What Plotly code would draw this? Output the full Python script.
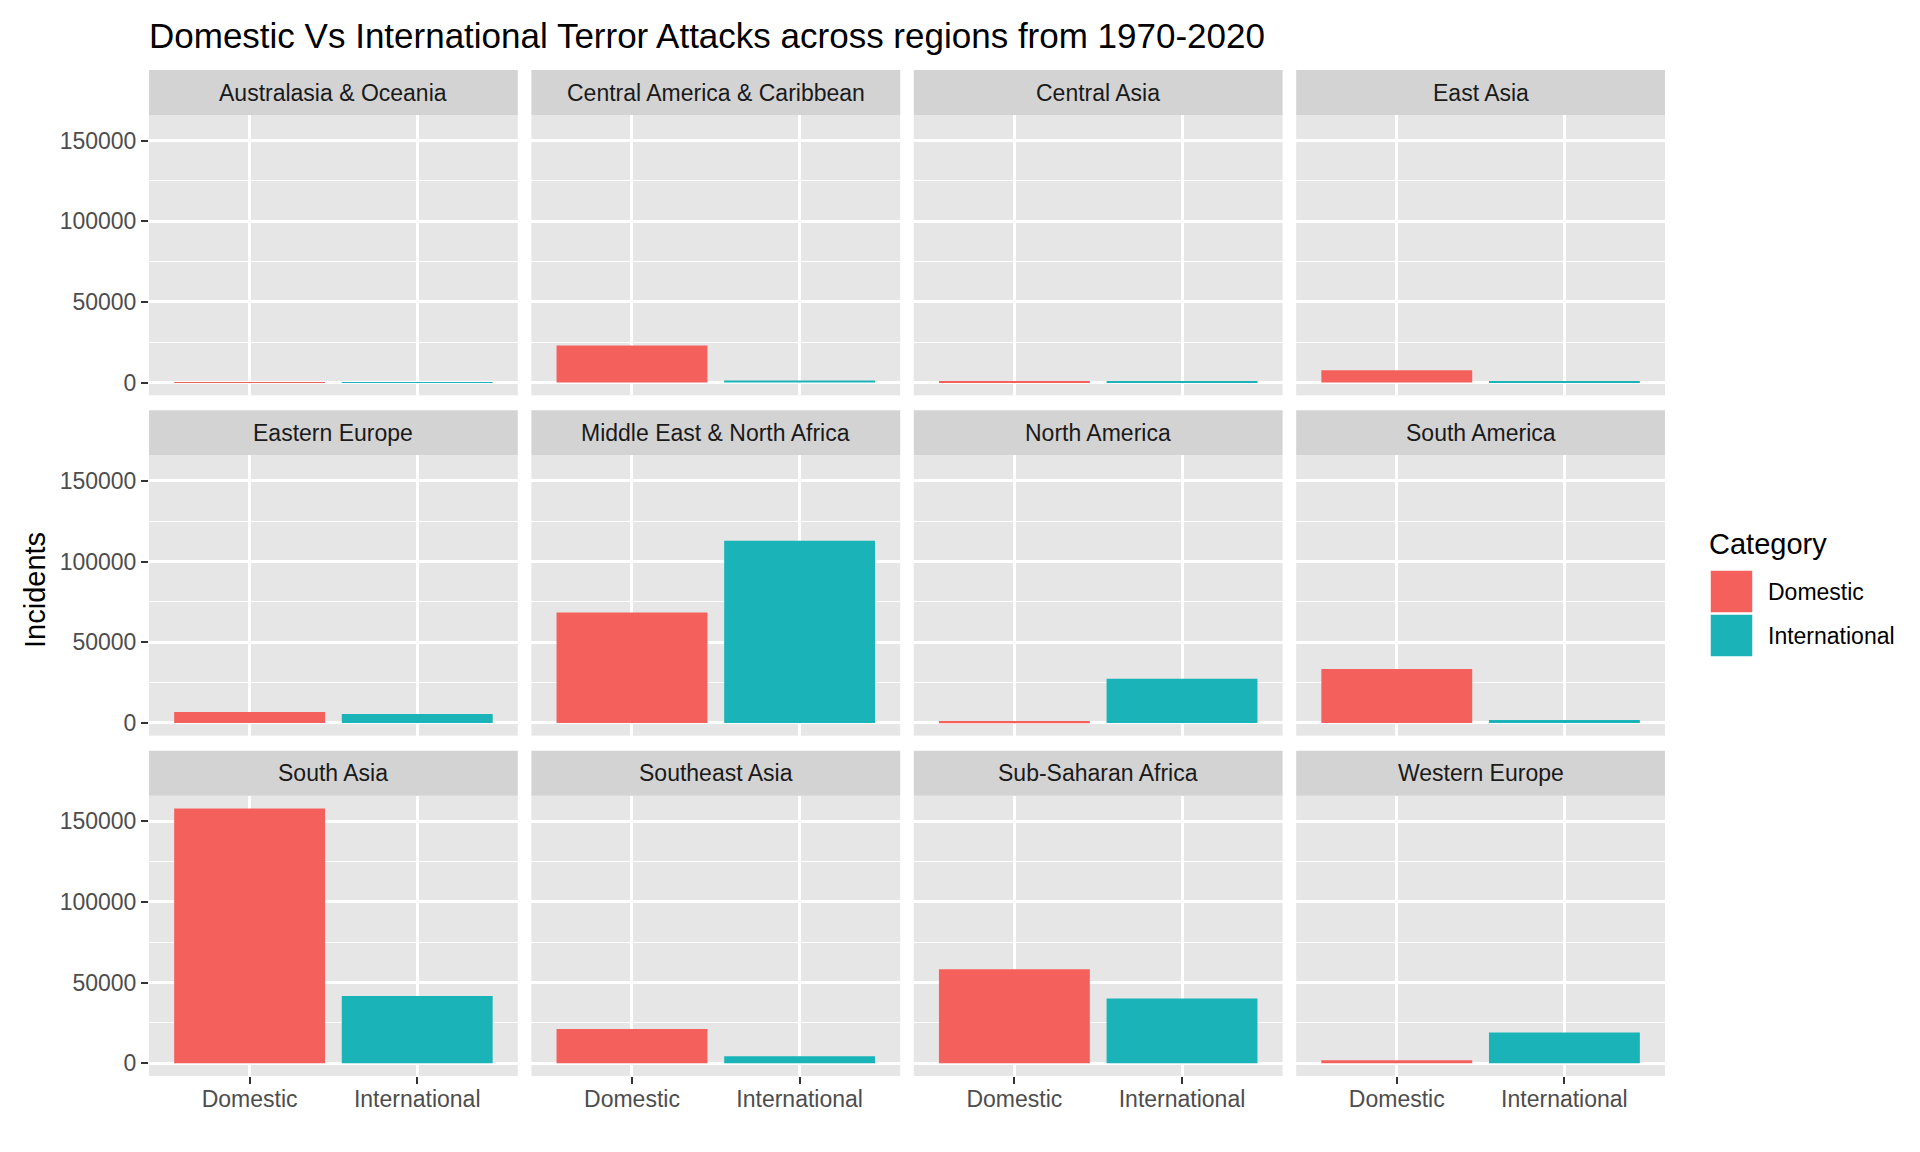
from plotly.subplots import make_subplots
import plotly.graph_objects as go

regions = ['Australasia & Oceania', 'Central America & Caribbean', 'Central Asia', 'East Asia',
           'Eastern Europe', 'Middle East & North Africa', 'North America', 'South America',
           'South Asia', 'Southeast Asia', 'Sub-Saharan Africa', 'Western Europe']
categories = ['Domestic', 'International']
domestic = [150, 23000, 600, 7700, 6700, 68500, 1200, 33500, 158000, 21200, 58300, 1800]
international = [250, 1300, 600, 600, 5500, 113000, 27400, 1800, 41700, 4300, 40200, 19000]
y_ticks = [0, 50000, 100000, 150000]
y_minor = [25000, 75000, 125000]

colors = {'Domestic': '#F4605B', 'International': '#19B3B8'}

# pixel layout of the 1920x1152 page
W, H = 1920, 1152
ml, mr, mt, mb = 141, 263, 62, 84
pw, ph = W - ml - mr, H - mt - mb
gap_x = 13.6
panel_w = (pw - 3 * gap_x) / 4
strip_h, gap_y = 45, 15
panel_h = (ph - 3 * strip_h - 2 * gap_y) / 3


def px(x):
    v = (x - ml) / pw
    return min(max(v, 0), 1) if abs(v - round(v)) < 1e-6 else v


def py(y):
    v = (H - mb - y) / ph
    return min(max(v, 0), 1) if abs(v - round(v)) < 1e-6 else v


fig = make_subplots(rows=3, cols=4)

for k, reg in enumerate(regions):
    r, c = k // 4 + 1, k % 4 + 1
    x0 = ml + (c - 1) * (panel_w + gap_x)
    x1 = x0 + panel_w
    s0 = mt + (r - 1) * (strip_h + panel_h + gap_y)
    p0 = s0 + strip_h
    p1 = p0 + panel_h
    vals = [domestic[k], international[k]]
    fig.add_trace(go.Bar(x=categories, y=vals, marker=dict(color=[colors[cat] for cat in categories], line_width=0),
                         width=0.9, showlegend=False, hoverinfo='x+y'), row=r, col=c)
    fig.update_xaxes(domain=[min(max(px(x0), 0), 1), min(max(px(x1), 0), 1)], range=[-0.6, 1.6],
                     showgrid=True, gridcolor='white', gridwidth=2.5,
                     showticklabels=(r == 3), ticks='outside' if r == 3 else '', ticklen=7, tickwidth=2,
                     ticklabelstandoff=-5,
                     tickcolor='#333333', tickfont=dict(size=23, color='#4D4D4D'), zeroline=False, row=r, col=c)
    fig.update_yaxes(domain=[min(max(py(p1), 0), 1), min(max(py(p0), 0), 1)], range=[-7900, 165900],
                     tickvals=y_ticks, ticktext=[str(t) for t in y_ticks],
                     showticklabels=(c == 1), ticks='outside' if c == 1 else '', ticklen=7, tickwidth=2,
                     tickcolor='#333333', tickfont=dict(size=23, color='#4D4D4D'),
                     showgrid=True, gridcolor='white', gridwidth=2.5,
                     minor=dict(tickvals=y_minor, showgrid=True, gridcolor='white', gridwidth=1.3, ticks=''),
                     zeroline=False, row=r, col=c)
    # facet strip
    fig.add_shape(type='rect', xref='paper', yref='paper', x0=px(x0), x1=px(x1), y0=py(p0), y1=py(s0),
                  fillcolor='#D3D3D3', line_width=0, layer='below')
    fig.add_annotation(text=reg, xref='paper', yref='paper', x=px((x0 + x1) / 2), y=py((s0 + p0) / 2),
                       showarrow=False, font=dict(size=23, color='#1A1A1A'), xanchor='center', yanchor='middle')

# legend drawn by hand to get ggplot-sized keys
fig.add_annotation(text='Category', xref='paper', yref='paper', x=px(1699), y=py(536), showarrow=False,
                   xanchor='left', yanchor='middle', font=dict(size=29, color='black'))
for i, cat in enumerate(categories):
    k0 = 562 + i * 44
    fig.add_shape(type='rect', xref='paper', yref='paper', x0=px(1702), x1=px(1745), y0=py(k0 + 43), y1=py(k0),
                  fillcolor=colors[cat], line=dict(color='white', width=1.5))
    fig.add_annotation(text=cat, xref='paper', yref='paper', x=px(1758), y=py(k0 + 22), showarrow=False,
                       xanchor='left', yanchor='middle', font=dict(size=23, color='black'))

fig.add_annotation(text='Incidents', xref='paper', yref='paper', x=px(27), y=py(582), showarrow=False,
                   textangle=-90, xanchor='center', yanchor='middle', font=dict(size=29, color='black'))

fig.update_layout(
    title=dict(text='Domestic Vs International Terror Attacks across regions from 1970-2020', x=0, xref='paper',
               xanchor='left', y=1 - 28 / H, yanchor='middle', font=dict(size=35, color='black')),
    width=W, height=H, margin=dict(l=ml, r=mr, t=mt, b=mb),
    plot_bgcolor='#E6E6E6', paper_bgcolor='white',
    font=dict(family='Liberation Sans, Arial, sans-serif'),
    bargap=0.1,
)

fig.write_html("out.html")
